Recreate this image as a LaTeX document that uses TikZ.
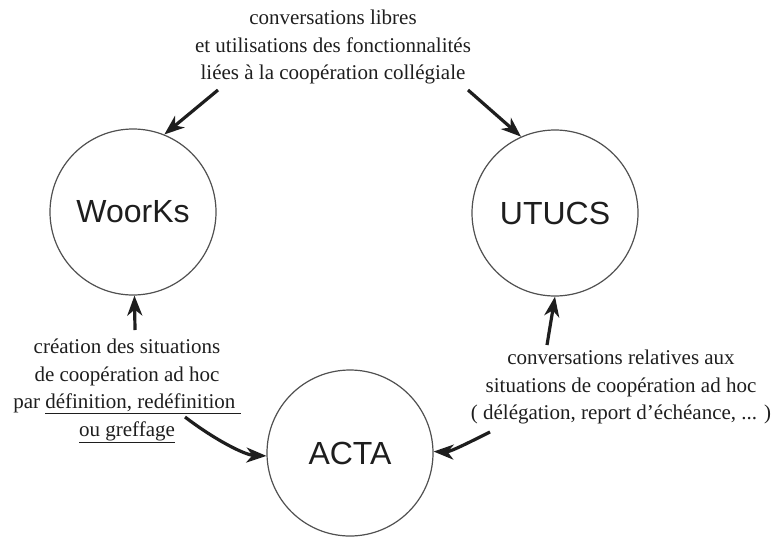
\documentclass[tikz,border=0pt]{standalone}
\usepackage{fontspec}
\setmainfont{Liberation Serif}
\newfontfamily\sysfont{Liberation Sans}
\usepackage{xcolor}
\usepackage{tikz}
\usetikzlibrary{arrows.meta,positioning}
\definecolor{inkgray}{RGB}{30,30,30}
\definecolor{rimgray}{RGB}{80,80,80}
\tikzset{
  sysv/.style={circle, draw=rimgray, line width=1.2pt, fill=white, minimum size=166pt, inner sep=0pt, font=\sysfont\fontsize{32}{36}\selectfont, text=inkgray},
  note/.style={align=center, inner sep=0pt, text=inkgray, font=\fontsize{21}{27.5}\selectfont},
  flow/.style={line width=3.2pt, draw=inkgray, -{Stealth[length=20pt,width=15pt,inset=6pt]}}
}

\begin{document}
\begin{tikzpicture}[x=1pt,y=-1pt]
  \useasboundingbox (0,0) rectangle (776,536);
  % the three systems
  \node[sysv] (woorks) at (133,212) {WoorKs};
  \node[sysv] (utucs) at (555,213) {UTUCS};
  \node[sysv] (acta) at (350,453) {ACTA};

  % labels
  \node[note] (libres) at (333,47) {conversations libres\\ et utilisations des fonctionnalités\\ liées à la coopération collégiale};
  \node[note] (creation) at (127,391) {création des situations\\ de coopération ad hoc\\ par \underline{définition, redéfinition~}\\ \underline{ou greffage}};
  \node[note] (relatives) at (621,387) {conversations relatives aux\\ situations de coopération ad hoc\\ ( délégation, report d'échéance, ... )};

  % tails of the arrows
  \coordinate (t1) at (218,90);
  \coordinate (t2) at (468,90);
  \coordinate (t3) at (135,330);
  \coordinate (t4) at (185,417);
  \coordinate (t5) at (547,345);
  \coordinate (t6) at (490,432);

  \draw[flow] (t1) -- (woorks.68);
  \draw[flow] (t2) -- (utucs.114);
  \draw[flow] (t3) -- (woorks.-89);
  \draw[flow] (t4) .. controls (215,440) and (245,455) .. (acta.182);
  \draw[flow] (t5) -- (utucs.-90);
  \draw[flow] (t6) .. controls (470,442) and (450,452) .. (acta.1);
\end{tikzpicture}
\end{document}
